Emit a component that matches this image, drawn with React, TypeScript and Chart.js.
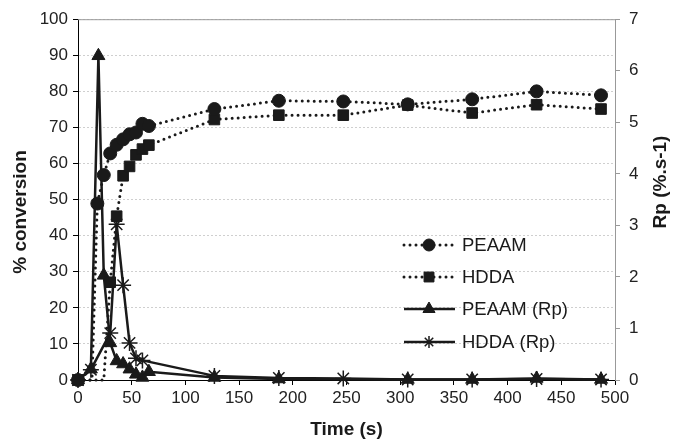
import React, { useEffect, useRef } from "react";
import { Chart, registerables } from "chart.js";
import { drawPoint } from "chart.js/helpers";

Chart.register(...registerables);

// ---- data ----
const peaamTime = [0, 13, 18, 24, 30, 36, 42, 48, 54, 60, 66, 127, 187, 247, 307, 367, 427, 487];
const peaamConv = [0, 0, 48.9, 56.8, 62.8, 65.2, 66.7, 68.1, 68.6, 71.0, 70.4, 75.1, 77.4, 77.2, 76.4, 77.8, 80.0, 78.9];

const hddaTime = [0, 24, 30, 36, 42, 48, 54, 60, 66, 127, 187, 247, 307, 367, 427, 487];
const hddaConv = [0, 0, 27.1, 45.4, 56.6, 59.2, 62.4, 64.0, 65.1, 72.2, 73.4, 73.4, 76.2, 74.0, 76.3, 75.1];

const peaamRpTime = [0, 12, 19, 24, 30, 36, 42, 48, 54, 60, 66, 127, 187, 307, 367, 427, 487];
const peaamRp = [0, 0.21, 6.29, 2.03, 0.72, 0.37, 0.31, 0.21, 0.11, 0.05, 0.16, 0.05, 0.02, 0.01, 0.01, 0.03, 0.01];

const hddaRpTime = [0, 12, 30, 36, 42, 48, 54, 60, 127, 187, 247, 307, 367, 427, 487];
const hddaRp = [0, 0.2, 0.91, 3.02, 1.84, 0.72, 0.42, 0.38, 0.08, 0.04, 0.03, 0.01, 0.01, 0.02, 0.01];

const seriesLabels = ["PEAAM", "HDDA", "PEAAM (Rp)", "HDDA (Rp)"];
const xTitle = "Time (s)";
const yTitle = "% conversion";
const y2Title = "Rp (%.s-1)";

const INK = "#1a1a1a";
const FONT = "'Liberation Sans', Arial, Helvetica, sans-serif";

const zip = (xs: number[], ys: number[]) => xs.map((x, i) => ({ x, y: ys[i] }));

const hiddenZero = (r: number) => (c: any) =>
  c.raw && c.raw.x > 0 && c.raw.y === 0 ? 0 : r;

const customPlugin = {
  id: "custom",
  afterDraw(chart: any) {
    const { ctx, chartArea } = chart;
    const { left, right, top } = chartArea;
    ctx.save();
    // top border
    ctx.strokeStyle = "#9a9a9a";
    ctx.lineWidth = 1;
    ctx.beginPath();
    ctx.moveTo(left, top + 0.5);
    ctx.lineTo(right, top + 0.5);
    ctx.stroke();

    // titles
    ctx.fillStyle = INK;
    ctx.font = `bold 19px ${FONT}`;
    ctx.textAlign = "center";
    ctx.textBaseline = "middle";
    ctx.fillText(xTitle, (left + right) / 2, 430);

    ctx.save();
    ctx.translate(21, 212);
    ctx.rotate(-Math.PI / 2);
    ctx.fillText(yTitle, 0, 0);
    ctx.restore();

    ctx.save();
    ctx.translate(661, 182);
    ctx.rotate(-Math.PI / 2);
    ctx.fillText(y2Title, 0, 0);
    ctx.restore();

    // legend
    const rows = [245, 277, 309, 342];
    chart.data.datasets.forEach((ds: any, i: number) => {
      const y = rows[i];
      ctx.save();
      ctx.strokeStyle = INK;
      ctx.lineWidth = ds.borderWidth;
      ctx.lineCap = ds.borderCapStyle || "butt";
      ctx.setLineDash(ds.borderDash || []);
      ctx.beginPath();
      ctx.moveTo(404, y);
      ctx.lineTo(455, y);
      ctx.stroke();
      ctx.restore();
      ctx.save();
      ctx.fillStyle = INK;
      ctx.strokeStyle = INK;
      ctx.lineWidth = ds.pointBorderWidth || 1;
      drawPoint(ctx, { pointStyle: ds.pointStyle, rotation: 0, radius: ds.legendRadius, borderWidth: ds.pointBorderWidth || 1 }, 429, y);
      ctx.restore();
      ctx.fillStyle = INK;
      ctx.font = `18.5px ${FONT}`;
      ctx.textAlign = "left";
      ctx.textBaseline = "middle";
      ctx.fillText(seriesLabels[i], 462, y + 1);
    });
    ctx.restore();
  },
};

export default function App() {
  const ref = useRef<HTMLCanvasElement | null>(null);

  useEffect(() => {
    if (!ref.current) return;
    Chart.defaults.font.family = FONT;
    const chart = new Chart(ref.current, {
      type: "scatter",
      data: {
        datasets: [
          {
            label: seriesLabels[0],
            data: zip(peaamTime, peaamConv),
            yAxisID: "y",
            showLine: true,
            borderColor: INK,
            backgroundColor: INK,
            borderWidth: 3,
            borderDash: [0, 6],
            borderCapStyle: "round",
            pointStyle: "circle",
            pointRadius: hiddenZero(6.5),
            pointBorderWidth: 1,
            pointBorderColor: INK,
            pointBackgroundColor: INK,
            legendRadius: 6,
            clip: false,
          } as any,
          {
            label: seriesLabels[1],
            data: zip(hddaTime, hddaConv),
            yAxisID: "y",
            showLine: true,
            borderColor: INK,
            backgroundColor: INK,
            borderWidth: 3,
            borderDash: [0, 6],
            borderCapStyle: "round",
            pointStyle: "rect",
            pointRadius: hiddenZero(7.5),
            pointBorderWidth: 1,
            pointBorderColor: INK,
            pointBackgroundColor: INK,
            legendRadius: 7,
            clip: false,
          } as any,
          {
            label: seriesLabels[2],
            data: zip(peaamRpTime, peaamRp),
            yAxisID: "y2",
            showLine: true,
            borderColor: INK,
            backgroundColor: INK,
            borderWidth: 2.5,
            pointStyle: "triangle",
            pointRadius: 7.5,
            pointBorderWidth: 1,
            pointBorderColor: INK,
            pointBackgroundColor: INK,
            legendRadius: 7,
            clip: false,
          } as any,
          {
            label: seriesLabels[3],
            data: zip(hddaRpTime, hddaRp),
            yAxisID: "y2",
            showLine: true,
            borderColor: INK,
            backgroundColor: INK,
            borderWidth: 2.5,
            pointStyle: "star",
            pointRadius: 8,
            pointBorderWidth: 1.5,
            pointBorderColor: INK,
            pointBackgroundColor: INK,
            legendRadius: 6,
            clip: false,
          } as any,
        ],
      },
      options: {
        animation: false,
        responsive: true,
        maintainAspectRatio: false,
        layout: { padding: { top: 15, left: 0, right: 0, bottom: 0 } },
        plugins: { legend: { display: false }, tooltip: { enabled: false } },
        elements: { line: { tension: 0 } },
        scales: {
          x: {
            type: "linear",
            position: "bottom",
            min: 0,
            max: 500,
            ticks: { stepSize: 50, font: { size: 17 }, color: "#222", padding: 3, maxRotation: 0 },
            grid: { drawOnChartArea: false, tickLength: 5, tickColor: "#000" },
            border: { color: "#000", width: 1 },
            title: { display: false },
            afterFit: (s: any) => { s.height = 66; },
          },
          y: {
            type: "linear",
            position: "left",
            min: 0,
            max: 100,
            ticks: { stepSize: 10, font: { size: 17 }, color: "#222", padding: 5 },
            grid: { color: "#cfcfcf", lineWidth: 1, tickLength: 5, tickColor: "#000", tickBorderDash: [] },
            border: { color: "#000", width: 1, dash: [2, 2] },
            afterFit: (s: any) => { s.width = 78; },
          },
          y2: {
            type: "linear",
            position: "right",
            min: 0,
            max: 7,
            ticks: { stepSize: 1, font: { size: 17 }, color: "#222", padding: 9 },
            grid: { drawOnChartArea: false, tickLength: 5, tickColor: "#999" },
            border: { color: "#999", width: 1 },
            afterFit: (s: any) => { s.width = 68; },
          },
        },
      },
      plugins: [customPlugin],
    } as any);
    return () => chart.destroy();
  }, []);

  return (
    <div style={{ position: "fixed", left: 0, top: 0, width: 683, height: 446, background: "#fff" }}>
      <canvas ref={ref} />
    </div>
  );
}
